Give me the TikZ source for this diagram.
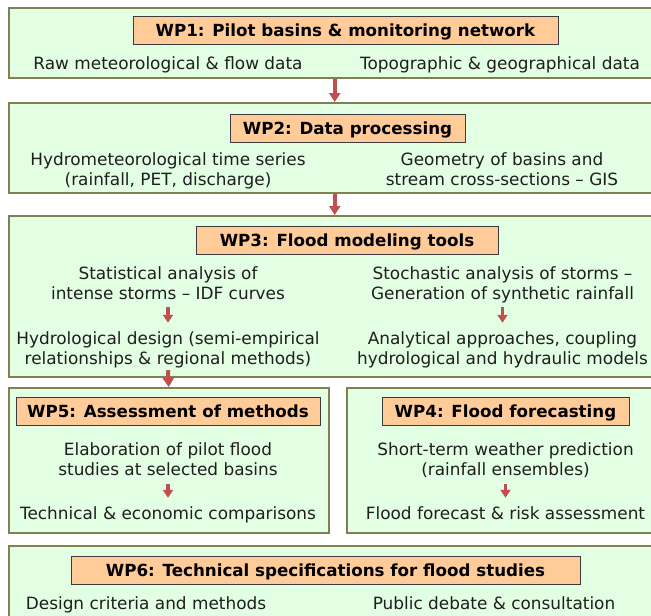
\documentclass[tikz,border=0pt]{standalone}
\usepackage{fontspec}
\setmainfont{DejaVu Sans}
\usetikzlibrary{arrows.meta}
\definecolor{boxfill}{RGB}{227,255,227}
\definecolor{boxline}{RGB}{128,128,80}
\definecolor{headfill}{RGB}{255,204,153}
\definecolor{headline}{RGB}{60,60,60}
\definecolor{arrowred}{RGB}{192,80,77}
\definecolor{txt}{RGB}{30,30,30}
\begin{document}
\begin{tikzpicture}[x=1pt,y=-1pt,
 outerbox/.style={draw=boxline, fill=boxfill, line width=1.5pt, inner sep=0pt, anchor=north west},
 header/.style={draw=headline, fill=headfill, line width=0.9pt, font=\fontsize{16.7}{20}\selectfont\bfseries, text=black, minimum height=28pt, text height=12.1pt, text depth=0pt, inner sep=0pt},
 body/.style={font=\fontsize{16.9}{20}\selectfont, text=txt, align=center, inner sep=0pt},
 bigarrow/.style={draw=arrowred, line width=4pt, -{Triangle[width=11pt,length=9pt]}},
 smallarrow/.style={draw=arrowred, line width=3.5pt, -{Triangle[width=10pt,length=8pt]}, shorten <=2pt, shorten >=7pt},
]
\useasboundingbox (0,0) rectangle (651,616);
\clip (0,0) rectangle (651,616);

% outer boxes
\node[outerbox, minimum width=652pt, minimum height=70pt] (wp1) at (8,7) {};
\node[outerbox, minimum width=652pt, minimum height=90pt] (wp2) at (8,102) {};
\node[outerbox, minimum width=652pt, minimum height=161pt] (wp3) at (8,215) {};
\node[outerbox, minimum width=320pt, minimum height=145pt] (wp5) at (8,387) {};
\node[outerbox, minimum width=318pt, minimum height=145pt] (wp4) at (346,387) {};
\node[outerbox, minimum width=652pt, minimum height=100pt] (wp6) at (8,545) {};

% headers
\node[header, minimum width=425pt] (h1) at (345.5,30) {WP1: Pilot basins \& monitoring network};
\node[header, minimum width=235pt] (h2) at (347.5,128) {WP2: Data processing};
\node[header, minimum width=302pt] (h3) at (347,240) {WP3: Flood modeling tools};
\node[header, minimum width=304pt] (h5) at (168,411) {WP5: Assessment of methods};
\node[header, minimum width=247pt] (h4) at (505.5,411) {WP4: Flood forecasting};
\node[header, minimum width=509pt] (h6) at (325.5,570) {WP6: Technical specifications for flood studies};

% body texts
\node[body] (t1l) at (168,65) {\strut Raw meteorological \& flow data};
\node[body] (t1r) at (500,65) {\strut Topographic \& geographical data};
\node[body] (t2l) at (168,171) {\strut Hydrometeorological time series\\\strut (rainfall, PET, discharge)};
\node[body] (t2r) at (502,171) {\strut Geometry of basins and\\\strut stream cross-sections \textendash{} GIS};
\node[body] (t3tl) at (168,285) {\strut Statistical analysis of\\\strut intense storms \textendash{} IDF curves};
\node[body] (t3bl) at (168,350) {\strut Hydrological design (semi-empirical\\\strut relationships \& regional methods)};
\node[body] (t3tr) at (502.5,285) {\strut Stochastic analysis of storms \textendash\\\strut Generation of synthetic rainfall};
\node[body] (t3br) at (502.5,350) {\strut Analytical approaches, coupling\\\strut hydrological and hydraulic models};
\node[body] (t5t) at (168,461.5) {\strut Elaboration of pilot flood\\\strut studies at selected basins};
\node[body] (t5b) at (168,515) {\strut Technical \& economic comparisons};
\node[body] (t4t) at (505.5,461.5) {\strut Short-term weather prediction\\\strut (rainfall ensembles)};
\node[body] (t4b) at (505.5,515) {\strut Flood forecast \& risk assessment};
\node[body] (t6l) at (146,605) {\strut Design criteria and methods};
\node[body] (t6r) at (494,605) {\strut Public debate \& consultation};

% connectors
\draw[bigarrow] (wp1.south) -- (wp2.north);
\draw[bigarrow] (wp2.south) -- (wp3.north);
\draw[bigarrow] (t3bl.south) -- (wp5.north);
\draw[smallarrow] (t3tl.south) -- (t3bl.north);
\draw[smallarrow] (t3tr.south) -- (t3br.north);
\draw[smallarrow] (t5t.south) -- (t5b.north);
\draw[smallarrow] (t4t.south) -- (t4b.north);
\end{tikzpicture}
\end{document}
